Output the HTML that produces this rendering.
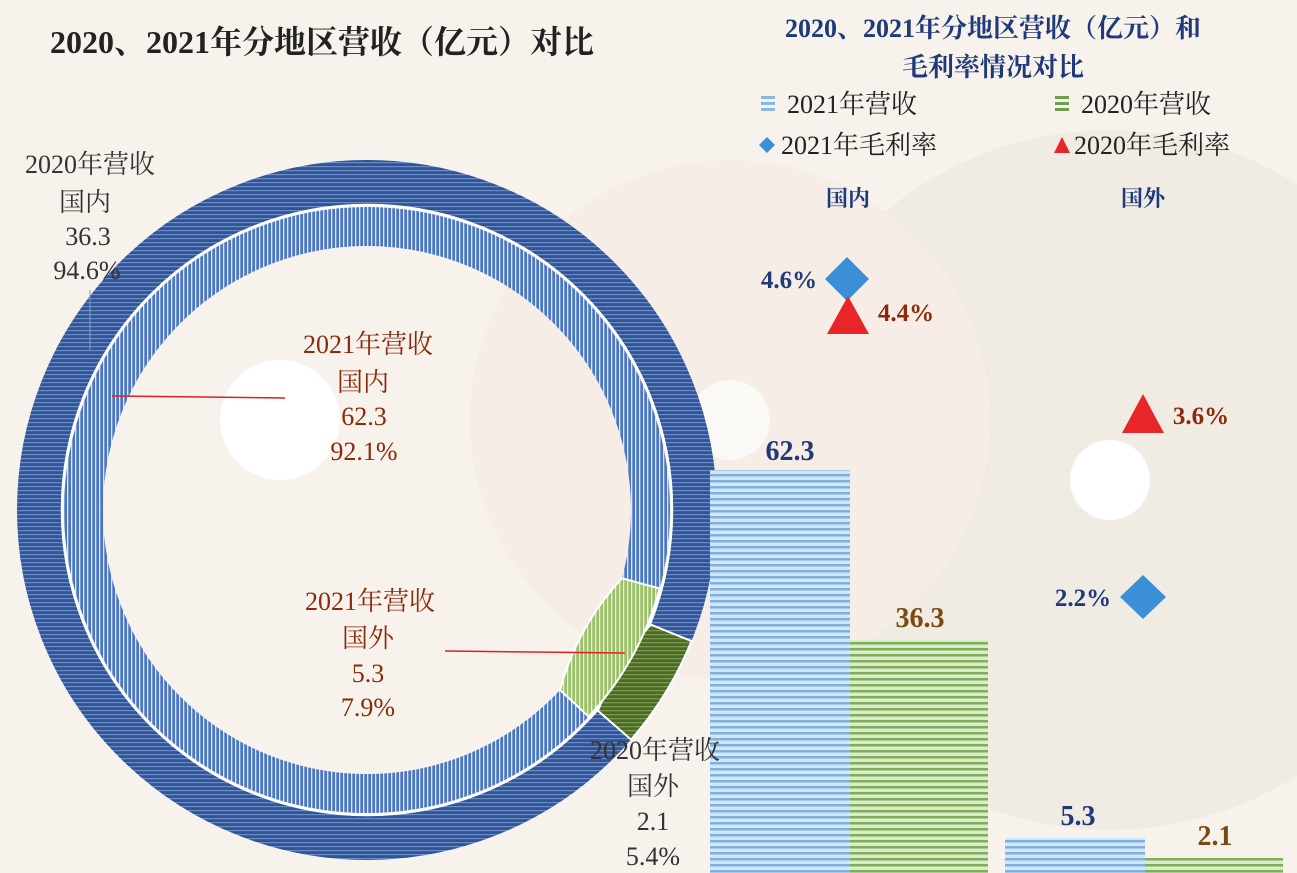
<!DOCTYPE html>
<html><head><meta charset="utf-8"><style>
body{margin:0;width:1297px;height:873px;overflow:hidden;background:#f7f3ec;font-family:"Liberation Serif","Noto Serif CJK SC",serif;}
svg{position:absolute;left:0;top:0}
</style></head><body>
<svg width="1297" height="873" viewBox="0 0 1297 873">
<defs>
<pattern id="pOut" width="4" height="4" patternUnits="userSpaceOnUse"><rect width="4" height="4" fill="#2f5597"/><rect width="4" height="1.2" fill="#6b8cc6"/></pattern>
<pattern id="pIn" width="4" height="4" patternUnits="userSpaceOnUse"><rect width="4" height="4" fill="#4a75c0"/><rect width="1.3" height="4" fill="#dfe8f6"/></pattern>
<pattern id="gIn" width="4" height="4" patternUnits="userSpaceOnUse"><rect width="4" height="4" fill="#9cbf6a"/><rect width="1.3" height="4" fill="#e4efd4"/></pattern>
<pattern id="gOut" width="4" height="4" patternUnits="userSpaceOnUse"><rect width="4" height="4" fill="#4b6a26"/><rect width="4" height="1.3" fill="#7a9a50"/></pattern>
<pattern id="bBlue" width="6" height="6" patternUnits="userSpaceOnUse"><rect width="6" height="6" fill="#d3e6f6"/><rect width="6" height="2.5" fill="#7fb0e0"/></pattern>
<pattern id="bGreen" width="6" height="6" patternUnits="userSpaceOnUse"><rect width="6" height="6" fill="#dcead0"/><rect width="6" height="2.5" fill="#7eae55"/></pattern>
</defs>
<rect width="1297" height="873" fill="#f7f3ec"/>
<circle cx="1110" cy="480" r="350" fill="#f1ece3"/>
<circle cx="1110" cy="480" r="40" fill="#fff"/>
<circle cx="730" cy="420" r="260" fill="#f6ede6"/>
<circle cx="730" cy="420" r="40" fill="#fbf9f6"/>
<circle cx="280" cy="420" r="60" fill="#fff"/>
<!-- donut -->
<g transform="translate(367,510)">
<circle r="328" fill="none" stroke="url(#pOut)" stroke-width="44"/>
<circle r="283.5" fill="none" stroke="url(#pIn)" stroke-width="39"/>
<circle r="305" fill="none" stroke="#fff" stroke-width="2.5"/>
<path d="M324.5,131.1 A350,350 0 0 1 264.1,229.6 L230.9,200.8 A306,306 0 0 1 283.7,114.6Z" fill="url(#gOut)" stroke="#fff" stroke-width="2"/>
<path d="M292.7,78.4 A303,303 0 0 1 221.6,206.6 L193.1,180 A264,264 0 0 1 255,68.3Z" fill="url(#gIn)" stroke="#fff" stroke-width="2"/>
</g>
<line x1="112" y1="396" x2="285" y2="398" stroke="#e02020" stroke-width="1.5"/>
<line x1="445" y1="651" x2="625" y2="653" stroke="#e02020" stroke-width="1.5"/>
<line x1="90" y1="290" x2="90" y2="350" stroke="#7da0d0" stroke-width="1"/>
<!-- bars -->
<rect x="710" y="470" width="140" height="403" fill="url(#bBlue)"/>
<rect x="850" y="640" width="138" height="233" fill="url(#bGreen)"/>
<rect x="1005" y="838" width="140" height="35" fill="url(#bBlue)"/>
<rect x="1145" y="858" width="138" height="15" fill="url(#bGreen)"/>
<!-- markers -->
<polygon points="847,257 869,279 847,301 825,279" fill="#3b8fd6"/>
<polygon points="848,296 869,334 827,334" fill="#e8262a"/>
<polygon points="1143,394 1164,433 1122,433" fill="#e8262a"/>
<polygon points="1143,575 1166,597 1143,619 1120,597" fill="#3b8fd6"/>
<!-- legend -->
<g fill="#8ab8e4"><rect x="761" y="96" width="14" height="3"/><rect x="761" y="102" width="14" height="3"/><rect x="761" y="108" width="14" height="3"/></g>
<g fill="#6aa04a"><rect x="1055" y="96" width="14" height="3"/><rect x="1055" y="102" width="14" height="3"/><rect x="1055" y="108" width="14" height="3"/></g>
<polygon points="767,137 775,145 767,153 759,145" fill="#3b8fd6"/>
<polygon points="1062,137 1070,153 1054,153" fill="#e8262a"/>
<g font-size="26" fill="#222">
<text x="787" y="113">2021年营收</text><text x="1081" y="113">2020年营收</text>
<text x="781" y="154">2021年毛利率</text><text x="1074" y="154">2020年毛利率</text>
</g>
<text x="993" y="37" text-anchor="middle" font-size="26" font-weight="bold" fill="#1f3a7a">2020、2021年分地区营收（亿元）和</text>
<text x="993" y="76" text-anchor="middle" font-size="26" font-weight="bold" fill="#1f3a7a">毛利率情况对比</text>
<text x="50" y="53" font-size="32" font-weight="bold" fill="#222">2020、2021年分地区营收（亿元）对比</text>
<g font-size="22" font-weight="bold" fill="#1f3a7a" text-anchor="middle"><text x="848" y="206">国内</text><text x="1143" y="206">国外</text></g>
<g font-size="25" font-weight="bold">
<text x="789" y="288" fill="#1f3a7a" text-anchor="middle">4.6%</text>
<text x="906" y="321" fill="#8b2a0a" text-anchor="middle">4.4%</text>
<text x="1201" y="424" fill="#8b2a0a" text-anchor="middle">3.6%</text>
<text x="1083" y="606" fill="#1f3a7a" text-anchor="middle">2.2%</text>
<text x="790" y="460" fill="#1f3a7a" text-anchor="middle" font-size="28">62.3</text>
<text x="920" y="627" fill="#7a4a10" text-anchor="middle" font-size="28">36.3</text>
<text x="1078" y="825" fill="#1f3a7a" text-anchor="middle" font-size="28">5.3</text>
<text x="1215" y="845" fill="#7a4a10" text-anchor="middle" font-size="28">2.1</text>
</g>
<g font-size="26" fill="#333" text-anchor="middle">
<text x="90" y="173">2020年营收</text><text x="85" y="211">国内</text><text x="88" y="245">36.3</text><text x="87" y="279">94.6%</text>
<text x="655" y="759">2020年营收</text><text x="653" y="795">国外</text><text x="653" y="830">2.1</text><text x="653" y="865">5.4%</text>
</g>
<g font-size="26" fill="#8b2a0a" text-anchor="middle">
<text x="368" y="353">2021年营收</text><text x="363" y="391">国内</text><text x="364" y="425">62.3</text><text x="364" y="460">92.1%</text>
<text x="370" y="610">2021年营收</text><text x="368" y="647">国外</text><text x="368" y="682">5.3</text><text x="368" y="716">7.9%</text>
</g>
</svg>
</body></html>
